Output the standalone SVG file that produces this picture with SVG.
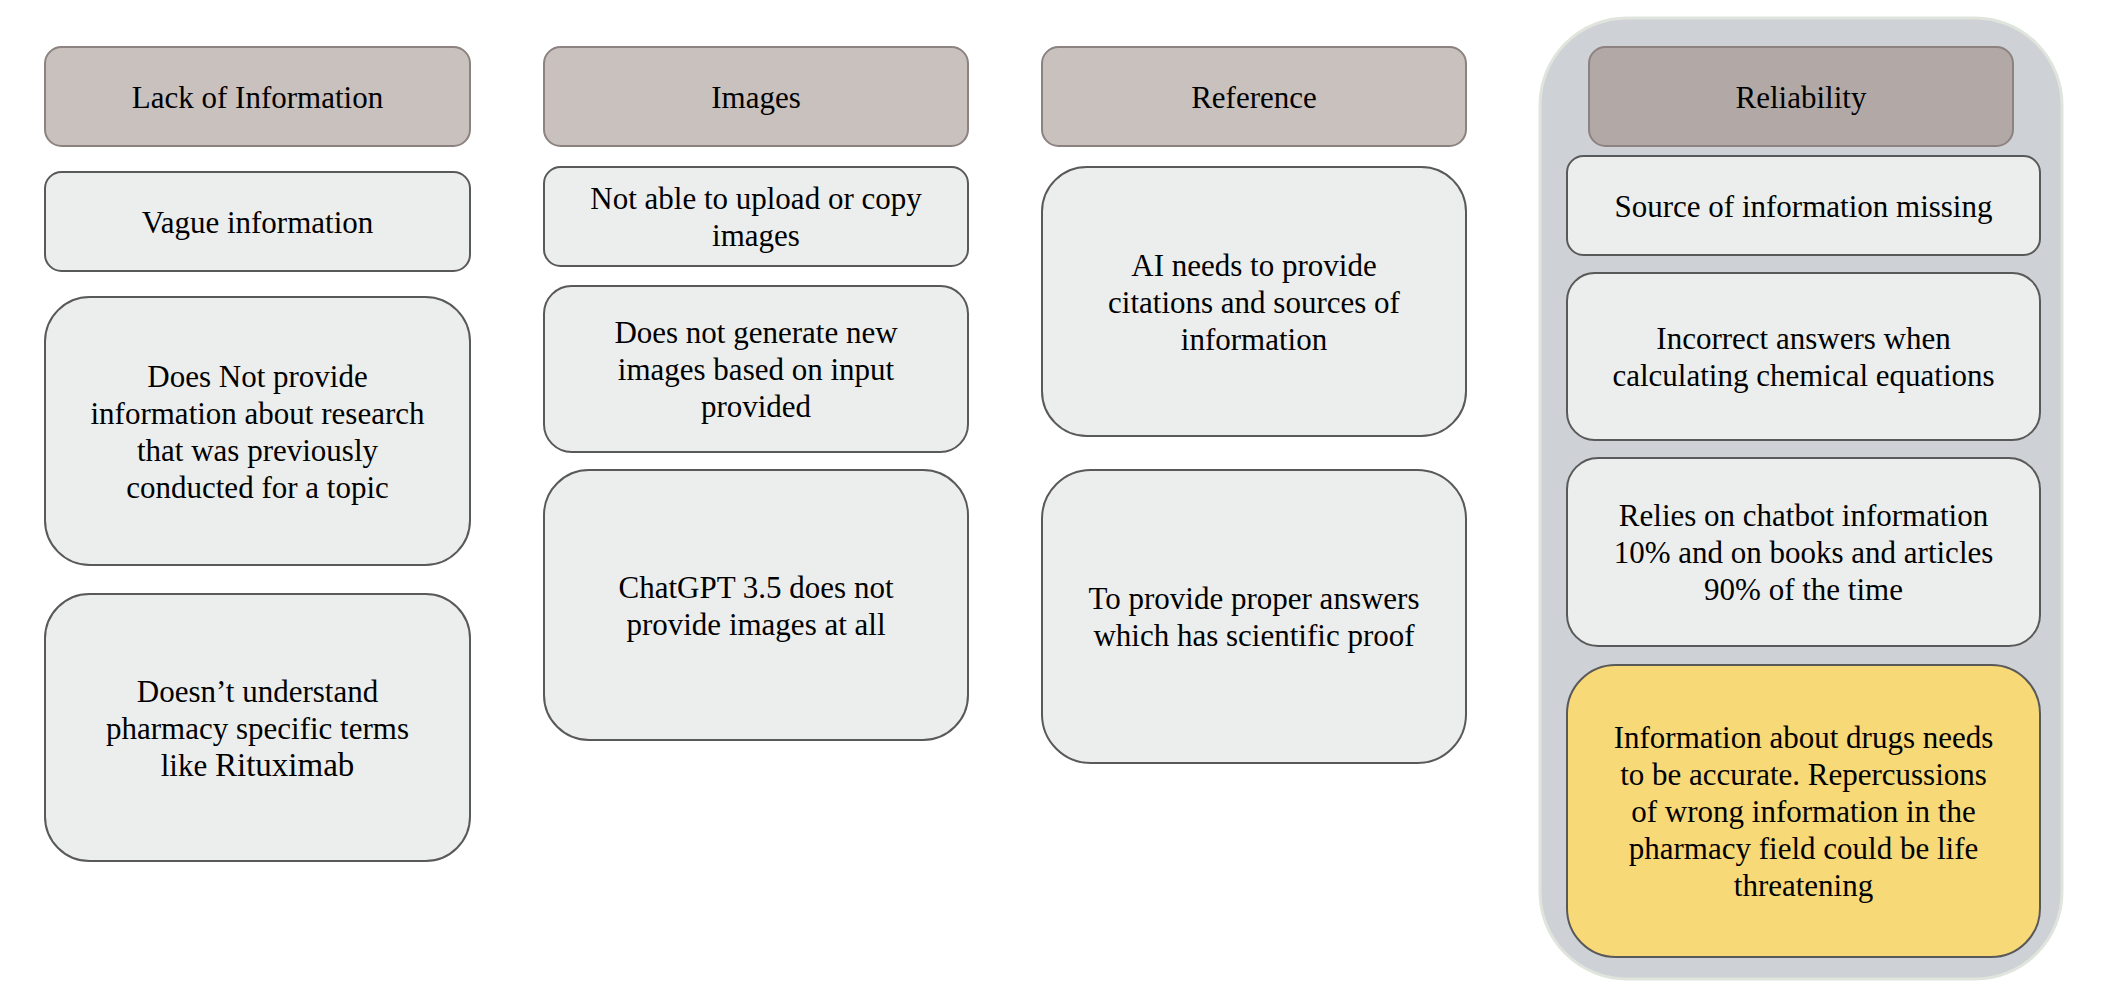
<svg xmlns="http://www.w3.org/2000/svg" width="2126" height="1000" viewBox="0 0 2126 1000">
<style>
.hdr{fill:#c9c1be;stroke:#8c8380;stroke-width:2}
.hdr2{fill:#b2a9a7;stroke:#8c8380;stroke-width:2}
.box{fill:#eceeed;stroke:#595959;stroke-width:2}
.warn{fill:#f8d978;stroke:#595959;stroke-width:2}
.cont{fill:#ced1d5;stroke:#dfe5dc;stroke-width:3}
text{font-family:"Liberation Serif","Times New Roman",serif;font-size:31px;fill:#000;text-anchor:middle}
.big{font-size:33px}
</style>
<rect width="2126" height="1000" fill="#ffffff"/>
<g id="container-reliability"><rect class="cont" x="1540" y="18" width="522" height="961" rx="87"/></g>
<g id="connectors"></g>
<g id="h-lack"><rect class="hdr" x="45" y="47" width="425" height="99" rx="16.5"/><text x="257.5" y="107.5">Lack of Information</text></g>
<g id="n-vague"><rect class="box" x="45" y="172" width="425" height="99" rx="16.5"/><text x="257.5" y="232.5">Vague information</text></g>
<g id="n-research"><rect class="box" x="45" y="297" width="425" height="268" rx="44.7"/><text x="257.5" y="386.5">Does Not provide</text><text x="257.5" y="423.5">information about research</text><text x="257.5" y="460.5">that was previously</text><text x="257.5" y="497.5">conducted for a topic</text></g>
<g id="n-terms"><rect class="box" x="45" y="594" width="425" height="267" rx="44.5"/><text x="257.5" y="701.5">Doesn’t understand</text><text x="257.5" y="738.5">pharmacy specific terms</text><text x="257.5" y="775.5">like <tspan class="big">Rituximab</tspan></text></g>
<g id="h-images"><rect class="hdr" x="544" y="47" width="424" height="99" rx="16.5"/><text x="756" y="107.5">Images</text></g>
<g id="n-upload"><rect class="box" x="544" y="167" width="424" height="99" rx="16.5"/><text x="756" y="209">Not able to upload or copy</text><text x="756" y="246">images</text></g>
<g id="n-generate"><rect class="box" x="544" y="286" width="424" height="166" rx="27.7"/><text x="756" y="343">Does not generate new</text><text x="756" y="380">images based on input</text><text x="756" y="417">provided</text></g>
<g id="n-chatgpt"><rect class="box" x="544" y="470" width="424" height="270" rx="45"/><text x="756" y="597.5">ChatGPT 3.5 does not</text><text x="756" y="634.5">provide images at all</text></g>
<g id="h-reference"><rect class="hdr" x="1042" y="47" width="424" height="99" rx="16.5"/><text x="1254" y="107.5">Reference</text></g>
<g id="n-citations"><rect class="box" x="1042" y="167" width="424" height="269" rx="44.8"/><text x="1254" y="275.5">AI needs to provide</text><text x="1254" y="312.5">citations and sources of</text><text x="1254" y="349.5">information</text></g>
<g id="n-proof"><rect class="box" x="1042" y="470" width="424" height="293" rx="48.8"/><text x="1254" y="609">To provide proper answers</text><text x="1254" y="646">which has scientific proof</text></g>
<g id="h-reliability"><rect class="hdr2" x="1589" y="47" width="424" height="99" rx="16.5"/><text x="1801" y="107.5">Reliability</text></g>
<g id="n-source"><rect class="box" x="1567" y="156" width="473" height="99" rx="16.5"/><text x="1803.5" y="216.5">Source of information missing</text></g>
<g id="n-incorrect"><rect class="box" x="1567" y="273" width="473" height="167" rx="27.8"/><text x="1803.5" y="349">Incorrect answers when</text><text x="1803.5" y="386">calculating chemical equations</text></g>
<g id="n-relies"><rect class="box" x="1567" y="458" width="473" height="188" rx="31.3"/><text x="1803.5" y="526">Relies on chatbot information</text><text x="1803.5" y="563">10% and on books and articles</text><text x="1803.5" y="600">90% of the time</text></g>
<g id="n-drugs"><rect class="warn" x="1567" y="665" width="473" height="292" rx="48.7"/><text x="1803.5" y="748">Information about drugs needs</text><text x="1803.5" y="785">to be accurate. Repercussions</text><text x="1803.5" y="822">of wrong information in the</text><text x="1803.5" y="859">pharmacy field could be life</text><text x="1803.5" y="896">threatening</text></g>
</svg>
